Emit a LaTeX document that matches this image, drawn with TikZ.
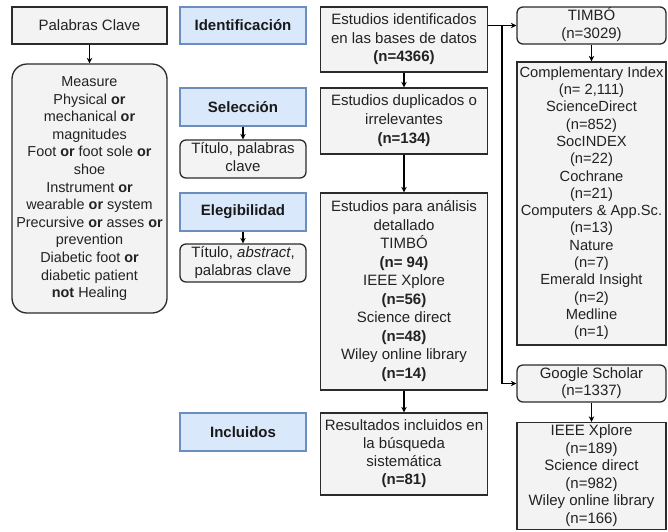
\documentclass[tikz,border=0pt]{standalone}
\usepackage{fontspec}
\setmainfont{Liberation Sans}
\usetikzlibrary{arrows.meta}
\definecolor{boxfill}{HTML}{F3F3F3}
\definecolor{boxdraw}{HTML}{2B2B2B}
\definecolor{bluefill}{HTML}{DAE8FC}
\definecolor{bluedraw}{HTML}{6C8EBF}
\definecolor{txt}{HTML}{222222}
\newcommand{\mlines}[1]{\begin{tabular}{@{}c@{}}#1\end{tabular}}
\begin{document}
\begin{tikzpicture}[x=1pt,y=-1pt,
  base/.style={draw=boxdraw, fill=boxfill, line width=1.3pt, inner sep=0pt, text=txt,
    font=\fontsize{15}{17.5}\selectfont},
  sqbox/.style={base},
  rbox/.style={base, rounded corners=6pt},
  stage/.style={base, draw=bluedraw, fill=bluefill, line width=1.1pt, text=black!90,
    font=\fontsize{15}{17.5}\selectfont\bfseries},
  arr/.style={draw=black, line width=1.3pt, -{Stealth[length=5.5pt,width=5.5pt]}},
]
\useasboundingbox (0,0) rectangle (668,531);
\fill[white] (0,0) rectangle (668,531);

% left column
\node[sqbox, minimum width=155pt, minimum height=37pt] (pc) at (89.5,25.5) {Palabras Clave};
\node[base, rounded corners=15pt, minimum width=155pt, minimum height=249pt,
  font=\fontsize{14.4}{17.6}\selectfont] (kw) at (89.5,188.5)
 {\mlines{Measure\\Physical \textbf{or}\\mechanical \textbf{or}\\magnitudes\\Foot \textbf{or} foot sole \textbf{or}\\shoe\\Instrument \textbf{or}\\wearable \textbf{or} system\\Precursive \textbf{or} asses \textbf{or}\\prevention\\Diabetic foot \textbf{or}\\diabetic patient\\\textbf{not} Healing}};

% stages
\node[stage, minimum width=126pt, minimum height=37pt] (id) at (243,25.5) {Identificación};
\node[stage, minimum width=126pt, minimum height=38pt] (sel) at (243,107) {Selección};
\node[rbox, minimum width=126pt, minimum height=38pt] (t1) at (243,159) {\mlines{Título, palabras\\clave}};
\node[stage, minimum width=126pt, minimum height=38pt] (eleg) at (243,212) {Elegibilidad};
\node[rbox, minimum width=126pt, minimum height=38pt] (t2) at (243,263) {\mlines{Título, \textit{abstract},\\palabras clave}};
\node[stage, minimum width=126pt, minimum height=38pt] (inc) at (243,432) {Incluidos};

% middle column
\node[sqbox, minimum width=167pt, minimum height=65pt, font=\fontsize{15}{18.7}\selectfont] (m1) at (404,39.5)
 {\mlines{Estudios identificados\\en las bases de datos\\\textbf{(n=4366)}}};
\node[sqbox, minimum width=167pt, minimum height=66pt, font=\fontsize{15}{19}\selectfont] (m2) at (404,121)
 {\mlines{Estudios duplicados o\\irrelevantes\\\textbf{(n=134)}}};
\node[sqbox, minimum width=167pt, minimum height=197pt, font=\fontsize{15}{18.5}\selectfont] (m3) at (404,291.5)
 {\mlines{Estudios para análisis\\detallado\\TIMBÓ\\\textbf{(n= 94)}\\IEEE Xplore\\\textbf{(n=56)}\\Science direct\\\textbf{(n=48)}\\Wiley online library\\\textbf{(n=14)}}};
\node[sqbox, minimum width=167pt, minimum height=82pt, font=\fontsize{15}{18}\selectfont] (m4) at (404,454)
 {\mlines{Resultados incluidos en\\la búsqueda\\sistemática\\\textbf{(n=81)}}};

% right column
\node[rbox, minimum width=149pt, minimum height=37pt] (r1) at (591.5,25.5) {\mlines{TIMBÓ\\(n=3029)}};
\node[sqbox, minimum width=149pt, minimum height=283pt, font=\fontsize{14.7}{17.3}\selectfont] (r2) at (591.5,203.5)
 {\mlines{Complementary Index\\(n= 2,111)\\ScienceDirect\\(n=852)\\SocINDEX\\(n=22)\\Cochrane\\(n=21)\\Computers \& App.Sc.\\(n=13)\\Nature\\(n=7)\\Emerald Insight\\(n=2)\\Medline\\(n=1)}};
\node[rbox, minimum width=149pt, minimum height=37pt] (r3) at (591.5,383.5) {\mlines{Google Scholar\\(n=1337)}};
\node[sqbox, minimum width=149pt, minimum height=107pt, font=\fontsize{15}{17.6}\selectfont] (r4) at (591.5,476)
 {\mlines{IEEE Xplore\\(n=189)\\Science direct\\(n=982)\\Wiley online library\\(n=166)}};

% connectors
\draw[arr] (pc) -- (kw);
\draw[arr] (sel) -- (t1);
\draw[arr] (eleg) -- (t2);
\draw[arr] (m1) -- (m2);
\draw[arr] (m2) -- (m3);
\draw[arr] (m3) -- (m4);
\draw[arr] (r1) -- (r2);
\draw[arr] (r3) -- (r4);
\coordinate (j) at (502,25.5);
\draw[arr] (m1.east |- r1.west) -- (r1.west);
\draw[arr] (j) |- (r3.west);
\end{tikzpicture}
\end{document}
